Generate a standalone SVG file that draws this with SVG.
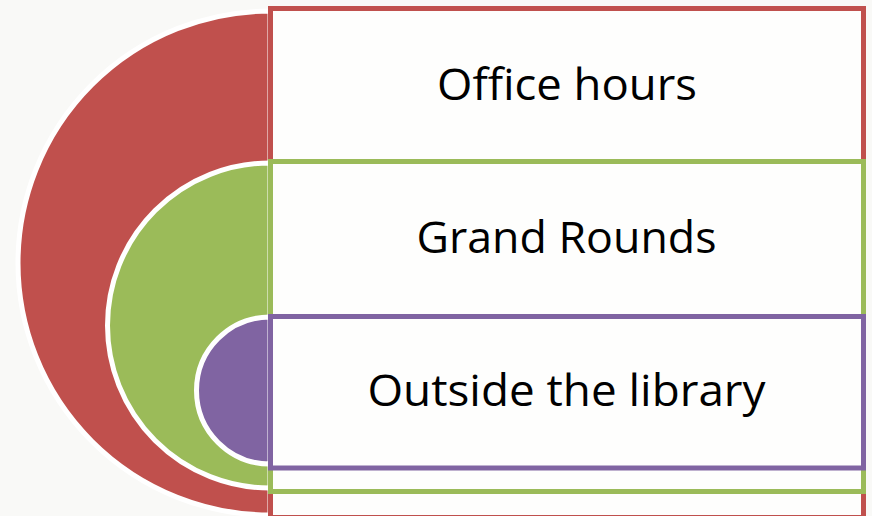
<svg xmlns="http://www.w3.org/2000/svg" width="872" height="516" viewBox="0 0 872 516">
<style>
.arc{stroke:#FFFFFF;stroke-width:5}
.box{fill:#FEFEFD;stroke-width:5}
.lbl{font-family:"Open Sans","Liberation Sans",sans-serif;font-size:44px;fill:#000000;text-anchor:middle}
</style>
<rect x="0" y="0" width="872" height="516" fill="#F9F9F7"/>
<g id="node-office">
<path class="arc" fill="#C0504D" d="M270,11 A252,252 0 0 0 270,515 Z"/>
<rect class="box" x="270.5" y="8.5" width="593" height="509" stroke="#C0504D"/>
<text class="lbl" x="567" y="99.5" textLength="260" lengthAdjust="spacingAndGlyphs">Office hours</text>
</g>
<g id="node-grand">
<path class="arc" fill="#9BBB59" d="M270,163 A162.5,162.5 0 0 0 270,488 Z"/>
<rect class="box" x="270.5" y="161.5" width="593" height="330" stroke="#9BBB59"/>
<text class="lbl" x="566.5" y="253" textLength="300" lengthAdjust="spacingAndGlyphs">Grand Rounds</text>
</g>
<g id="node-outside">
<path class="arc" fill="#8064A2" d="M270,317 A73.5,73.5 0 0 0 270,464 Z"/>
<rect class="box" x="270.5" y="316.5" width="593" height="151.5" stroke="#8064A2"/>
<text class="lbl" x="566.5" y="406" textLength="398" lengthAdjust="spacingAndGlyphs">Outside the library</text>
</g>
<g id="connectors"/>
</svg>
